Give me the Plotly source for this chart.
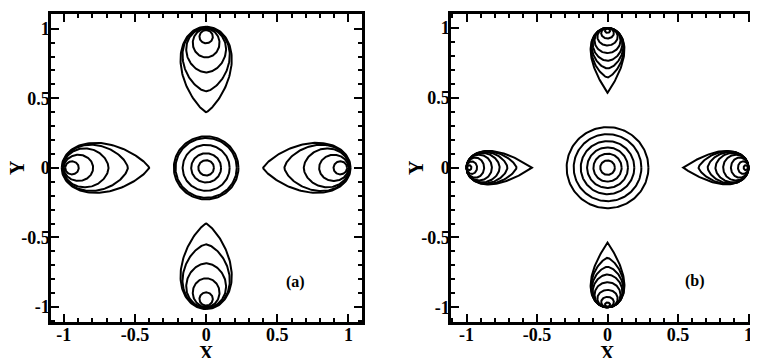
import numpy as np
import plotly.graph_objects as go

FONT = "Liberation Serif"
# the page adds an 8px body margin, so the figure is 8px smaller than the window
PAD = 8
W, H = 758 - PAD, 358 - PAD

# tick labels (plain hyphen, as in the figure)
tick_vals = [-1, -0.5, 0, 0.5, 1]
tick_text = ["-1", "-0.5", "0", "0.5", "1"]

# panel (a): contours of one lobe, measured along the lobe axis (|coord| of ends)
a_lobe_base = [0.99, 1.0, 1.005, 1.01, 1.015]
a_lobe_tip = [0.895, 0.794, 0.686, 0.55, 0.40]
a_lobe_halfwidth = [0.047, 0.094, 0.14, 0.166, 0.18]
a_lobe_shape = [0.5, 0.5, 0.55, 0.65, 0.8]
a_ring_radius = [0.055, 0.105, 0.165, 0.215, 0.227]

# panel (b)
b_lobe_base = [0.995, 1.0, 1.0, 1.0, 1.0, 1.0, 1.0, 1.0]
b_lobe_tip = [0.965, 0.925, 0.875, 0.82, 0.765, 0.71, 0.645, 0.536]
b_lobe_halfwidth = [0.018, 0.045, 0.072, 0.092, 0.105, 0.112, 0.117, 0.12]
b_lobe_shape = [0.5, 0.5, 0.5, 0.5, 0.55, 0.62, 0.72, 1.0]
b_ring_radius = [0.052, 0.1, 0.145, 0.19, 0.24, 0.29]

DIRECTIONS = [(0, 1), (0, -1), (-1, 0), (1, 0)]


def px_x(p):
    return (p - PAD) / W


def px_y(p):
    return (H - (p - PAD)) / H


def lobe_path(base, tip, halfwidth, shape, direction):
    """Closed egg/tear-drop contour between base (wall side) and tip."""
    t = np.linspace(0, np.pi, 80)
    u = (1 - np.cos(t)) / 2
    peak = 0.5 / (0.5 + shape)
    norm = 1.0 / (np.sqrt(peak) * (1 - peak) ** shape)
    w = halfwidth * norm * np.sqrt(u) * (1 - u) ** shape
    s = base - (base - tip) * u
    along = np.concatenate([s, s[::-1]])
    across = np.concatenate([w, -w[::-1]])
    dx, dy = direction
    return along * dx - across * dy, along * dy + across * dx


def contour_trace(bases, tips, widths, shapes, rings, xa, ya, width):
    xs, ys = [], []
    for d in DIRECTIONS:
        for b, t, w, q in zip(bases, tips, widths, shapes):
            x, y = lobe_path(b, t, w, q, d)
            xs += list(x) + [None]
            ys += list(y) + [None]
    th = np.linspace(0, 2 * np.pi, 160)
    for r in rings:
        xs += list(r * np.cos(th)) + [None]
        ys += list(r * np.sin(th)) + [None]
    return go.Scatter(
        x=xs, y=ys, mode="lines", xaxis=xa, yaxis=ya,
        line=dict(color="black", width=width), hoverinfo="skip",
        showlegend=False,
    )


fig = go.Figure()
fig.add_trace(contour_trace(a_lobe_base, a_lobe_tip, a_lobe_halfwidth,
                            a_lobe_shape, a_ring_radius, "x", "y", 2))
fig.add_trace(contour_trace(b_lobe_base, b_lobe_tip, b_lobe_halfwidth,
                            b_lobe_shape, b_ring_radius, "x2", "y2", 2))

tickfont = dict(family=FONT, size=18, color="black", weight="bold")


def axis_style(rng, domain, mirror, anchor, standoff):
    return dict(
        range=rng, domain=domain, anchor=anchor,
        tickmode="array", tickvals=tick_vals, ticktext=tick_text,
        ticks="inside", ticklen=8, tickwidth=2, tickcolor="black",
        minor=dict(tickmode="linear", tick0=0, dtick=0.1, ticks="inside",
                   ticklen=4, tickwidth=1.5, tickcolor="black"),
        showline=True, linewidth=2.5, linecolor="black", mirror=mirror,
        showgrid=False, zeroline=False, tickfont=tickfont,
        ticklabelstandoff=standoff,
    )


ydom = [px_y(322), px_y(14)]
fig.update_layout(
    width=W, height=H,
    margin=dict(l=0, r=0, t=0, b=0),
    paper_bgcolor="white", plot_bgcolor="white",
    xaxis=axis_style([-1.09, 1.095], [px_x(51), px_x(362)], "ticks", "y", -5),
    yaxis=axis_style([-1.108, 1.106], ydom, "ticks", "x", -5),
    xaxis2=axis_style([-1.11, 1.067], [px_x(451), 1.0], "ticks", "y2", -5),
    yaxis2=axis_style([-1.105, 1.10], ydom, False, "x2", -5),
)

labels = [
    dict(text="X", x=px_x(206), y=px_y(353), textangle=0),
    dict(text="Y", x=px_x(17), y=px_y(168), textangle=-90),
    dict(text="X", x=px_x(607), y=px_y(353), textangle=0),
    dict(text="Y", x=px_x(416), y=px_y(168), textangle=-90),
]
for lb in labels:
    fig.add_annotation(
        xref="paper", yref="paper", showarrow=False,
        xanchor="center", yanchor="middle",
        font=dict(family=FONT, size=20, color="black", weight="bold"), **lb,
    )

fig.add_annotation(text="(a)", x=0.63, y=-0.82, xref="x", yref="y",
                   showarrow=False,
                   font=dict(family=FONT, size=16, color="black", weight="bold"))
fig.add_annotation(text="(b)", x=0.62, y=-0.81, xref="x2", yref="y2",
                   showarrow=False,
                   font=dict(family=FONT, size=16, color="black", weight="bold"))

fig.write_html("out.html")
